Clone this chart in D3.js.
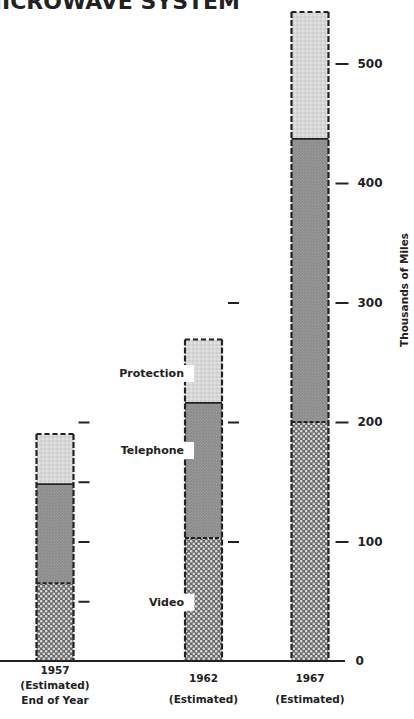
<!DOCTYPE html>
<html><head><meta charset="utf-8">
<script src="https://cdn.jsdelivr.net/npm/d3@7"></script>
<style>html,body{margin:0;padding:0;background:#fff;}svg{display:block;}</style>
</head><body>
<script>
const years = ["1957", "1962", "1967"];
const subLabels = [["(Estimated)", "End of Year"], ["(Estimated)"], ["(Estimated)"]];
const video = [65, 103, 200];
const telephone = [83, 113, 237];
const protection = [42, 53, 106];
const axisTicks = [0, 100, 200, 300, 400, 500];
const minorTicks1957 = [50, 100, 150, 200];
const minorTicks1962 = [100, 200, 300];
const seriesNames = ["Video", "Telephone", "Protection"];
const title = "MICROWAVE SYSTEM";
const axisTitle = "Thousands of Miles";

const W = 414, H = 719;
const svg = d3.select("body").append("svg").attr("width", W).attr("height", H);
svg.append("rect").attr("width", W).attr("height", H).attr("fill", "#fff");

const defs = svg.append("defs");
const pv = defs.append("pattern").attr("id", "pv").attr("patternUnits", "userSpaceOnUse").attr("width", 5).attr("height", 5);
pv.append("rect").attr("width", 5).attr("height", 5).attr("fill", "#6a6a6a");
pv.append("circle").attr("cx", 1.25).attr("cy", 1.25).attr("r", 1.3).attr("fill", "#d8d8d8");
pv.append("circle").attr("cx", 3.75).attr("cy", 3.75).attr("r", 1.3).attr("fill", "#d8d8d8");
const pt = defs.append("pattern").attr("id", "pt").attr("patternUnits", "userSpaceOnUse").attr("width", 3).attr("height", 3);
pt.append("rect").attr("width", 3).attr("height", 3).attr("fill", "#8a8a8a");
pt.append("circle").attr("cx", 0.75).attr("cy", 0.75).attr("r", 0.6).attr("fill", "#b4b4b4");
pt.append("circle").attr("cx", 2.25).attr("cy", 2.25).attr("r", 0.6).attr("fill", "#a8a8a8");
const pp = defs.append("pattern").attr("id", "pp").attr("patternUnits", "userSpaceOnUse").attr("width", 4).attr("height", 4);
pp.append("rect").attr("width", 4).attr("height", 4).attr("fill", "#d8d8d8");
pp.append("circle").attr("cx", 1).attr("cy", 1).attr("r", 0.8).attr("fill", "#c2c2c2");
pp.append("circle").attr("cx", 3).attr("cy", 3).attr("r", 0.8).attr("fill", "#ebebeb");

const fills = ["url(#pv)", "url(#pt)", "url(#pp)"];

const y = d3.scaleLinear().domain([0, 500]).range([661, 63.5]);
const xc = d3.scaleOrdinal().domain(years).range([55, 203.5, 310]);
const bw = 37;

const data = years.map((yr, i) => ({ year: yr, Video: video[i], Telephone: telephone[i], Protection: protection[i] }));
const stack = d3.stack().keys(seriesNames)(data);

const font = "'DejaVu Sans', sans-serif";

svg.append("text").attr("x", 240).attr("y", 9).attr("text-anchor", "end")
  .attr("font-family", font).attr("font-weight", "bold").attr("font-size", 22)
  .attr("fill", "#222").text(title);

stack.forEach((s, si) => {
  svg.append("g").selectAll("rect").data(s).join("rect")
    .attr("x", d => xc(d.data.year) - bw / 2)
    .attr("y", d => y(d[1]))
    .attr("width", bw)
    .attr("height", d => y(d[0]) - y(d[1]))
    .attr("fill", fills[si]);
});

const edges = svg.append("g").attr("stroke", "#222").attr("fill", "none");
data.forEach((d, i) => {
  const x0 = xc(d.year) - bw / 2, x1 = xc(d.year) + bw / 2;
  const top = y(stack[2][i][1]);
  const vt = y(stack[0][i][1]);
  const tt = y(stack[1][i][1]);
  [x0, x1].forEach(xx => {
    edges.append("line").attr("x1", xx).attr("x2", xx).attr("y1", top).attr("y2", y(0))
      .attr("stroke-width", 2.2).attr("stroke-dasharray", "6,2");
  });
  edges.append("line").attr("x1", x0).attr("x2", x1).attr("y1", top).attr("y2", top)
    .attr("stroke-width", 2).attr("stroke-dasharray", "5,3");
  edges.append("line").attr("x1", x0).attr("x2", x1).attr("y1", vt).attr("y2", vt)
    .attr("stroke-width", 2).attr("stroke-dasharray", "4,2");
  edges.append("line").attr("x1", x0).attr("x2", x1).attr("y1", tt).attr("y2", tt)
    .attr("stroke-width", 1.8);
});

svg.append("line").attr("x1", 0).attr("x2", 345).attr("y1", y(0)).attr("y2", y(0))
  .attr("stroke", "#222").attr("stroke-width", 2);

const ax = svg.append("g").attr("transform", `translate(${xc("1967") + bw / 2 + 7},0)`)
  .call(d3.axisRight(y).tickValues(axisTicks).tickSize(13).tickPadding(9).tickFormat(d3.format("d")));
ax.select(".domain").remove();
ax.selectAll(".tick line").attr("stroke", "#222").attr("stroke-width", 2);
ax.selectAll(".tick").filter(d => d === 0).select("line").remove();
ax.selectAll(".tick").filter(d => d === 0).select("text").attr("x", 20);
ax.selectAll(".tick text").attr("font-family", font).attr("font-weight", "bold")
  .attr("font-size", 12).attr("fill", "#222");

[[ "1957", minorTicks1957, 5 ], [ "1962", minorTicks1962, 6 ]].forEach(([yr, tv, off]) => {
  const g = svg.append("g").attr("transform", `translate(${xc(yr) + bw / 2 + off},0)`)
    .call(d3.axisRight(y).tickValues(tv).tickSize(11).tickFormat(""));
  g.select(".domain").remove();
  g.selectAll(".tick line").attr("stroke", "#222").attr("stroke-width", 2);
});

svg.append("text").attr("transform", `translate(408,290) rotate(-90)`).attr("text-anchor", "middle")
  .attr("font-family", font).attr("font-weight", "bold").attr("font-size", 10.5).attr("fill", "#222")
  .text(axisTitle);

data.forEach((d, i) => {
  const g = svg.append("g").attr("font-family", font).attr("font-weight", "bold")
    .attr("font-size", 10.5).attr("fill", "#222").attr("text-anchor", "middle");
  const first = i === 0 ? 674 : 682;
  const step = i === 0 ? 15 : 21;
  g.append("text").attr("x", xc(d.year)).attr("y", first).text(d.year);
  subLabels[i].forEach((s, k) => g.append("text").attr("x", xc(d.year)).attr("y", first + step * (k + 1)).text(s));
});

const labelYear = "1962";
const li = years.indexOf(labelYear);
const labelPos = [
  { name: "Video", v: stack[0][li][0] + video[li] * 0.48 },
  { name: "Telephone", v: stack[1][li][0] + telephone[li] * 0.65 },
  { name: "Protection", v: stack[2][li][0] + protection[li] * 0.47 }
];
labelPos.forEach(l => {
  const g = svg.append("g");
  const t = g.append("text").attr("x", xc(labelYear) - bw / 2 - 1).attr("y", y(l.v)).attr("dy", "0.35em")
    .attr("text-anchor", "end").attr("font-family", font).attr("font-weight", "bold")
    .attr("font-size", 11).attr("fill", "#222").text(l.name);
  const bb = t.node().getBBox();
  g.insert("rect", "text").attr("x", bb.x - 3).attr("y", bb.y - 2).attr("width", bb.width + 13)
    .attr("height", bb.height + 4).attr("fill", "#fff");
});
</script>
</body></html>
